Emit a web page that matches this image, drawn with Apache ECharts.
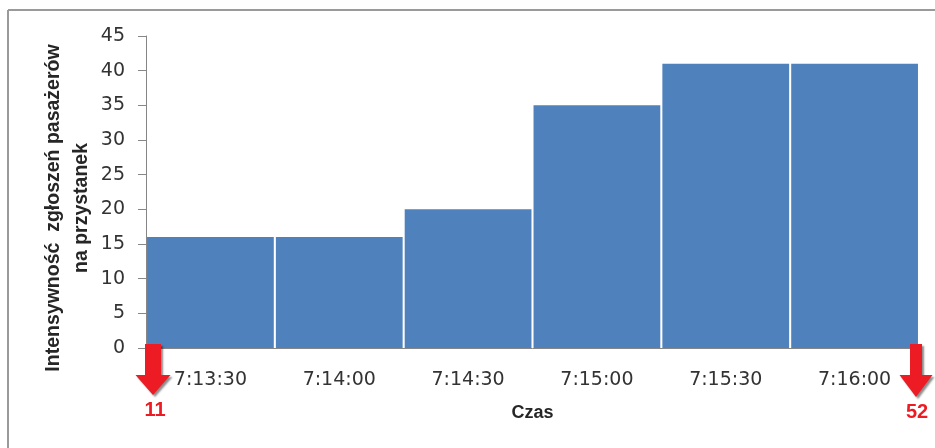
<!DOCTYPE html>
<html>
<head>
<meta charset="utf-8">
<script src="https://cdn.jsdelivr.net/npm/echarts@6/dist/echarts.min.js"></script>
<style>html,body{margin:0;padding:0;background:#fff}#c{width:935px;height:448px}</style>
</head>
<body>
<div id="c"></div>
<script>
const categories = ['7:13:30', '7:14:00', '7:14:30', '7:15:00', '7:15:30', '7:16:00'];
const values = [16, 16, 20, 35, 41, 41];
const yTitle = 'Intensywność  zgłoszeń pasażerów\nna przystanek';
const xTitle = 'Czas';
const leftMarker = '11';
const rightMarker = '52';

const chart = echarts.init(document.getElementById('c'));
const red = '#ED1C24';
function arrow(cx, top, shaftW, headW, headTop, tip) {
  return {
    type: 'polygon',
    shape: { points: [
      [cx - shaftW / 2, top], [cx + shaftW / 2, top], [cx + shaftW / 2, headTop],
      [cx + headW / 2, headTop], [cx, tip], [cx - headW / 2, headTop], [cx - shaftW / 2, headTop]
    ] },
    style: { fill: red, shadowColor: 'rgba(0,0,0,0.45)', shadowBlur: 2, shadowOffsetX: 2, shadowOffsetY: 2 },
    z: 100
  };
}
chart.setOption({
  animation: false,
  backgroundColor: '#fff',
  grid: { left: 146, right: 16, top: 36, bottom: 100 },
  xAxis: {
    type: 'category',
    data: categories,
    name: xTitle,
    nameLocation: 'middle',
    nameGap: 56,
    nameTextStyle: { fontFamily: 'Liberation Sans', fontWeight: 'bold', fontSize: 18, color: '#262626' },
    axisLine: { lineStyle: { color: '#868686', width: 1 } },
    axisTick: { show: false },
    axisLabel: { fontFamily: 'DejaVu Sans', fontSize: 19, color: '#333333', margin: 23 }
  },
  yAxis: {
    type: 'value',
    min: 0, max: 45, interval: 5,
    axisLine: { show: true, lineStyle: { color: '#868686', width: 1 } },
    axisTick: { show: true, length: 8, lineStyle: { color: '#868686' } },
    splitLine: { show: false },
    axisLabel: { fontFamily: 'DejaVu Sans', fontSize: 19, color: '#333333', margin: 21 }
  },
  series: [{
    type: 'bar',
    data: values,
    barCategoryGap: '1.6%',
    itemStyle: { color: '#4F81BD' }
  }],
  graphic: [
    { type: 'line', shape: { x1: 8, y1: 10, x2: 935, y2: 10 }, style: { stroke: '#9a9a9a', lineWidth: 2 } },
    { type: 'line', shape: { x1: 8, y1: 10, x2: 8, y2: 448 }, style: { stroke: '#9a9a9a', lineWidth: 2 } },
    { type: 'text', x: 68, y: 208, rotation: Math.PI / 2,
      style: { text: yTitle, fontFamily: 'Liberation Sans', fontWeight: 'bold', fontSize: 19.5, lineHeight: 28,
        fill: '#262626', align: 'center', verticalAlign: 'middle' } },
    arrow(153, 344, 16, 35, 375, 395),
    arrow(916, 344, 12, 33, 375, 397),
    { type: 'text', x: 155, y: 410, style: { text: leftMarker, fontFamily: 'Liberation Sans', fontWeight: 'bold', fontSize: 20, fill: red, align: 'center', verticalAlign: 'middle' }, z: 100 },
    { type: 'text', x: 917, y: 412, style: { text: rightMarker, fontFamily: 'Liberation Sans', fontWeight: 'bold', fontSize: 20, fill: red, align: 'center', verticalAlign: 'middle' }, z: 100 }
  ]
});
</script>
</body>
</html>
